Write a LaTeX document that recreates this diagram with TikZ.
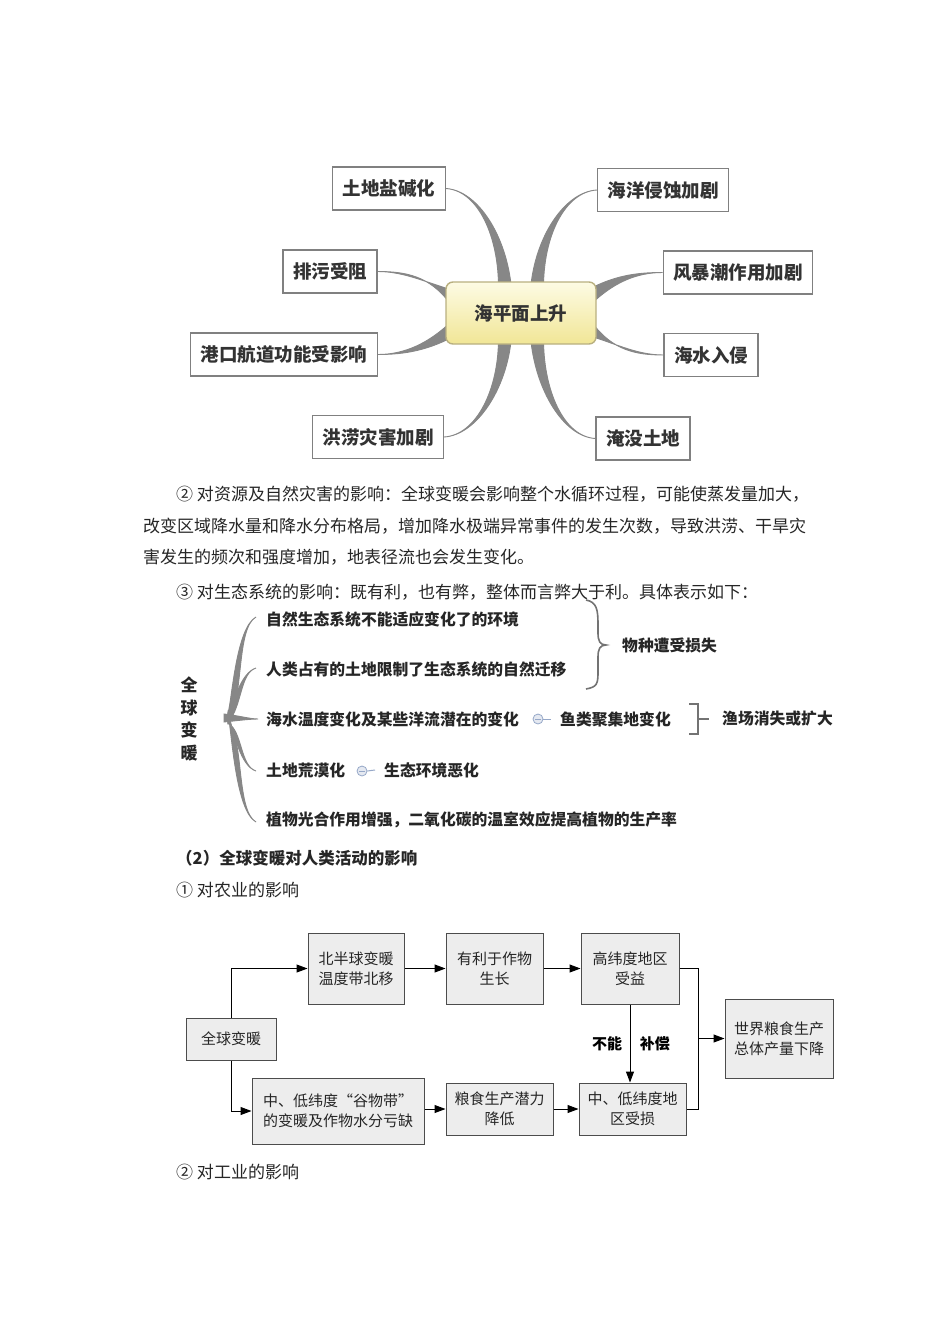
\documentclass[tikz,border=0pt]{standalone}
\usepackage{fontspec}
\setmainfont{Noto Sans CJK SC}
\usetikzlibrary{arrows.meta,backgrounds,calc,positioning}

\definecolor{hubtop}{RGB}{253,251,228}
\definecolor{hubbot}{RGB}{241,230,150}
\definecolor{hubline}{RGB}{185,176,128}
\definecolor{knob}{RGB}{150,168,200}

% tapered branch: base, half width at base, c1, half width at c1, c2, end
\newcommand{\twig}[6]{%
  \filldraw[twig] ($#1+(#2)$) .. controls ($#3+(#4)$) and #5 .. #6
    .. controls #5 and ($#3-(#4)$) .. ($#1-(#2)$) -- cycle;}

\tikzset{
  txt/.style={anchor=west,inner sep=0,text=black!85,font=\fontsize{17}{20}\selectfont},
  leafbox/.style={draw=black!50,line width=1.4pt,fill=white,minimum height=43,inner xsep=10,
    text=black!80,font=\fontsize{18.5}{20}\selectfont\bfseries},
  hubbox/.style={draw=hubline,line width=1.4pt,rounded corners=7,top color=hubtop,bottom color=hubbot,
    minimum width=150,minimum height=62,text=black!80,font=\fontsize{18.5}{20}\selectfont\bfseries},
  twig/.style={fill=black!47,draw=black!47,line width=0.9pt},
  item/.style={anchor=west,inner sep=0,text=black!85,font=\fontsize{15.8}{18}\selectfont\bfseries},
  knobby/.style={circle,inner sep=0,minimum size=10,fill=knob!25,draw=knob,line width=0.8pt,
    path picture={\draw[knob,line width=0.9pt] ($(path picture bounding box.center)+(-3,0)$) -- ++(6,0);}},
  thin/.style={draw=black!55,line width=1.6pt},
  box/.style={draw=black!70,fill=black!7,line width=1pt,align=center,inner sep=0,
    text=black!85,font=\fontsize{15}{20}\selectfont},
  flow/.style={-{Triangle[length=11pt,width=8pt]},line width=1pt,black},
}

\begin{document}
\begin{tikzpicture}[x=1pt,y=-1pt]
\path[use as bounding box] (0,0) rectangle (950,1344);
\begin{scope}[on background layer]
  \fill[white] (0,0) rectangle (950,1344);
\end{scope}

% sea level mind map
\node[hubbox] (h) at (521,313) {海平面上升};
\node[leafbox] (m1) at (389,188.5) {土地盐碱化};
\node[leafbox] (m2) at (330,271.5) {排污受阻};
\node[leafbox] (m3) at (284,354.5) {港口航道功能受影响};
\node[leafbox] (m4) at (378,437) {洪涝灾害加剧};
\node[leafbox] (r1) at (663,190) {海洋侵蚀加剧};
\node[leafbox] (r2) at (738,272.5) {风暴潮作用加剧};
\node[leafbox] (r3) at (711,355) {海水入侵};
\node[leafbox] (r4) at (643,438.5) {淹没土地};
\begin{scope}[on background layer]
  \twig{(h.north)+(-16,8)}{6.5,0}{(h.north)+(-18,-45)}{4,0}{($(m1.east)+(32,2)$)}{(m1.east)}
  \twig{(h.west)+(8,-16)}{4,-5.5}{(h.west)+(-16,-33)}{0,4}{($(m2.east)+(28,0)$)}{(m2.east)}
  \twig{(h.west)+(8,16)}{4,5.5}{(h.west)+(-16,33)}{0,4}{($(m3.east)+(28,0)$)}{(m3.east)}
  \twig{(h.south)+(-16,-8)}{6.5,0}{(h.south)+(-18,45)}{4,0}{($(m4.east)+(32,-2)$)}{(m4.east)}
  \twig{(h.north)+(16,8)}{6.5,0}{(h.north)+(18,-45)}{4,0}{($(r1.west)+(-32,2)$)}{(r1.west)}
  \twig{(h.east)+(-8,-16)}{4,5.5}{(h.east)+(16,-33)}{0,4}{($(r2.west)+(-28,0)$)}{(r2.west)}
  \twig{(h.east)+(-8,16)}{4,-5.5}{(h.east)+(16,33)}{0,4}{($(r3.west)+(-28,0)$)}{(r3.west)}
  \twig{(h.south)+(16,-8)}{6.5,0}{(h.south)+(18,45)}{4,0}{($(r4.west)+(-32,-2)$)}{(r4.west)}
\end{scope}

% text
\node[txt] (p1) at (176,494) {② 对资源及自然灾害的影响：全球变暖会影响整个水循环过程，可能使蒸发量加大，};
\node[txt] (p2) at (143,526) {改变区域降水量和降水分布格局，增加降水极端异常事件的发生次数，导致洪涝、干旱灾};
\node[txt] (p3) at (143,557) {害发生的频次和强度增加，地表径流也会发生变化。};
\node[txt] (p4) at (176,592) {③ 对生态系统的影响：既有利，也有弊，整体而言弊大于利。具体表示如下：};

% ecology
\node[align=center,inner sep=0,text=black!85,font=\fontsize{17}{22.5}\selectfont\bfseries] (g0) at (189,719) {全\\球\\变\\暖};
\coordinate (r0) at (224,718);
\node[item] (e1) at (266,619) {自然生态系统不能适应变化了的环境};
\node[item] (e2) at (266,669) {人类占有的土地限制了生态系统的自然迁移};
\node[item] (e3) at (266,719) {海水温度变化及某些洋流潜在的变化};
\node[item] (e4) at (266,770) {土地荒漠化};
\node[item] (e5) at (266,820) {植物光合作用增强，二氧化碳的温室效应提高植物的生产率};
\twig{(r0)+(4,0)}{0,5}{(r0)+(14,-18)}{6,0}{($(e1.west)+(-30,9)$)}{($(e1.west)+(-10,-2)$)}
\twig{(r0)+(4,0)}{0,5}{(r0)+(14,-13)}{4.5,0}{($(e2.west)+(-26,4)$)}{($(e2.west)+(-10,-1)$)}
\twig{(r0)}{0,4}{(r0)+(14,0)}{0,2.5}{($(e3.west)+(-16,0)$)}{($(e3.west)+(-8,0)$)}
\twig{(r0)+(4,0)}{0,5}{(r0)+(14,13)}{4.5,0}{($(e4.west)+(-26,-4)$)}{($(e4.west)+(-10,1)$)}
\twig{(r0)+(4,0)}{0,5}{(r0)+(14,18)}{6,0}{($(e5.west)+(-30,-9)$)}{($(e5.west)+(-10,2)$)}

\node[item] (loss) at (622,645) {物种遭受损失};
\draw[thin] (586,600) .. controls (597,602) and (598,610) .. (598,625) -- (598,633)
  .. controls (598,641) and (600,645) .. ($(loss.west)+(-16,0)$)
  .. controls (600,645) and (598,649) .. (598,657) -- (598,672)
  .. controls (598,684) and (597,687) .. (586,689);

\node[knobby] (k3) at (538,719) {};
\node[item] (fish) at (560,719) {鱼类聚集地变化};
\node[item] (field) at (722,719) {渔场消失或扩大};
\draw[knob,line width=1pt] (k3.east) -- ($(fish.west)+(-9,0)$);
\draw[thin] ($(fish.east)+(18,-15)$) -- ($(fish.east)+(27,-15)$) -- ($(fish.east)+(27,15)$) -- ($(fish.east)+(18,15)$)
  ($(fish.east)+(27,0)$) -- ($(field.west)+(-13,0)$);

\node[knobby] (k4) at (362,771) {};
\node[item] (eco) at (384,770) {生态环境恶化};
\draw[knob,line width=1pt] (k4.east) -- ($(eco.west)+(-9,0)$);

% human activity
\node[txt,font=\fontsize{16.5}{20}\selectfont\bfseries] (h2) at (176,858) {（2）全球变暖对人类活动的影响};
\node[txt] (p5) at (176,890) {① 对农业的影响};
\node[txt] (p6) at (176,1172) {② 对工业的影响};

\node[box,minimum width=90,minimum height=42] (g) at (231,1039) {全球变暖};
\node[box,minimum width=96,minimum height=71] (n1) at (356,968.5) {北半球变暖\\温度带北移};
\node[box,minimum width=97,minimum height=71] (n2) at (494.5,968.5) {有利于作物\\生长};
\node[box,minimum width=98,minimum height=71] (n3) at (630,968.5) {高纬度地区\\受益};
\node[box,minimum width=108,minimum height=79] (w) at (779,1038.5) {世界粮食生产\\总体产量下降};
\node[box,minimum width=172,minimum height=66] (s1) at (338,1111) {中、低纬度“谷物带”\\的变暖及作物水分亏缺};
\node[box,minimum width=107,minimum height=52] (s2) at (499.5,1109) {粮食生产潜力\\降低};
\node[box,minimum width=107,minimum height=52] (s3) at (632.5,1109) {中、低纬度地\\区受损};
\coordinate (j) at ($(w.west)+(-26,0)$);

\draw[flow] (g.north) |- (n1.west);
\draw[flow] (g.south) |- (s1.west);
\path (n1) edge[flow] (n2)
      (n2) edge[flow] (n3)
      (s1.east |- s2) edge[flow] (s2)
      (s2) edge[flow] (s3);
\draw[flow] (n3.south) -- node[pos=0.5,left=4pt,font=\fontsize{15}{18}\selectfont\bfseries] {不能}
  node[pos=0.5,right=6pt,font=\fontsize{15}{18}\selectfont\bfseries] {补偿} (n3.south |- s3.north);
\draw[line width=1pt] (n3.east) -| (j) |- (s3.east);
\draw[flow] (j) -- (w.west);
\end{tikzpicture}
\end{document}
